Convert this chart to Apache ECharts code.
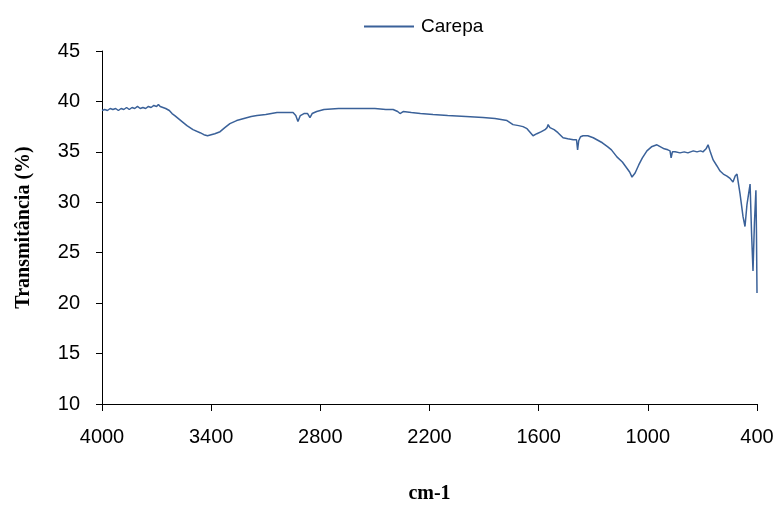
<!DOCTYPE html>
<html>
<head>
<meta charset="utf-8">
<script src="https://cdn.jsdelivr.net/npm/echarts@6/dist/echarts.min.js"></script>
<style>
  html, body { margin: 0; padding: 0; background: #fff; }
  #chart { width: 777px; height: 509px; }
</style>
</head>
<body>
<div id="chart"></div>
<script>
// FTIR spectrum of the "Carepa" sample: wavenumber (cm-1) vs transmittance (%)
const wavenumbers = [
  4000, 3985, 3970, 3955, 3940, 3925, 3910, 3895, 3880, 3865, 3850, 3835, 3820, 3805, 3790,
  3775, 3760, 3745, 3730, 3715, 3700, 3690, 3680, 3665, 3650, 3630, 3615, 3600, 3580, 3560,
  3533, 3500, 3461, 3440, 3420, 3400, 3380, 3351, 3325, 3297, 3260, 3220, 3180, 3148, 3100,
  3038, 2990, 2950, 2935, 2923, 2910, 2890, 2870, 2857, 2845, 2820, 2780, 2700, 2600, 2500,
  2440, 2400, 2375, 2362, 2345, 2300, 2250, 2181, 2100, 2000, 1906, 1840, 1774, 1741, 1710,
  1686, 1664, 1645, 1631, 1610, 1585, 1565, 1554, 1548, 1538, 1515, 1494, 1466, 1440, 1410,
  1392, 1386, 1380, 1370, 1356, 1330, 1300, 1280, 1250, 1220, 1200, 1170, 1140, 1120, 1100,
  1087, 1070, 1050, 1030, 1005, 980, 950, 930, 910, 890, 878, 872, 865, 850, 823,
  800, 780, 750, 730, 710, 697, 680, 669, 655, 641, 620, 603, 585, 565, 550,
  532, 520, 510, 493, 477, 466, 455, 438, 430, 422, 414, 406, 403, 400
];
const transmittance = [
  39.1, 39.2, 39.1, 39.3, 39.2, 39.3, 39.1, 39.3, 39.2, 39.4, 39.2, 39.4, 39.3, 39.5, 39.3,
  39.4, 39.3, 39.5, 39.4, 39.6, 39.5, 39.7, 39.5, 39.4, 39.3, 39.1, 38.8, 38.6, 38.3, 38.0,
  37.6, 37.2, 36.9, 36.7, 36.6, 36.7, 36.8, 37.0, 37.4, 37.8, 38.1, 38.3, 38.5, 38.6, 38.7,
  38.9, 38.9, 38.9, 38.6, 38.0, 38.6, 38.8, 38.8, 38.4, 38.8, 39.0, 39.2, 39.3, 39.3, 39.3,
  39.2, 39.2, 39.0, 38.8, 39.0, 38.9, 38.8, 38.7, 38.6, 38.5, 38.4, 38.3, 38.1, 37.7, 37.6,
  37.5, 37.3, 36.9, 36.6, 36.8, 37.0, 37.2, 37.4, 37.7, 37.4, 37.2, 36.9, 36.4, 36.3, 36.2,
  36.2, 35.2, 36.1, 36.5, 36.6, 36.6, 36.4, 36.2, 35.9, 35.5, 35.2, 34.5, 34.0, 33.5, 33.0,
  32.5, 32.9, 33.7, 34.4, 35.1, 35.5, 35.7, 35.5, 35.3, 35.2, 35.1, 34.4, 35.0, 35.0, 34.9,
  35.0, 34.9, 35.1, 35.0, 35.1, 35.0, 35.3, 35.7, 34.9, 34.2, 33.6, 33.1, 32.8, 32.6, 32.4,
  32.0, 32.6, 32.8, 30.8, 28.6, 27.6, 29.8, 31.8, 27.0, 23.2, 28.0, 31.2, 27.0, 21.0
];
const xTicks = [400, 1000, 1600, 2200, 2800, 3400, 4000];
const seriesName = 'Carepa';
const xTitle = 'cm-1';
const yTitle = 'Transmitância (%)';

const points = wavenumbers.map((w, i) => [w, transmittance[i]]);
const lineColor = '#3A6199';
const tickFont = 'Liberation Sans, Arial, sans-serif';
const titleFont = 'Liberation Serif, Times New Roman, serif';

const chart = echarts.init(document.getElementById('chart'), null, { renderer: 'canvas' });
chart.setOption({
  animation: false,
  backgroundColor: '#fff',
  grid: { left: 102, right: 20, top: 51, bottom: 99, containLabel: false },
  legend: {
    data: [seriesName],
    top: 12,
    left: 359,
    itemWidth: 50,
    itemHeight: 2,
    itemGap: 6,
    icon: 'rect',
    textStyle: { fontFamily: tickFont, fontSize: 19, color: '#000', padding: [0, 0, 0, 2] }
  },
  xAxis: {
    type: 'value',
    inverse: true,
    min: 400,
    max: 4000,
    name: xTitle,
    nameLocation: 'middle',
    nameGap: 80,
    nameTextStyle: { fontFamily: titleFont, fontWeight: 'bold', fontSize: 20, color: '#000' },
    axisLine: { show: true, onZero: false, lineStyle: { color: '#000', width: 1 } },
    axisTick: { show: true, length: 7, customValues: xTicks, lineStyle: { color: '#000' } },
    axisLabel: {
      margin: 23,
      customValues: xTicks,
      formatter: v => String(v),
      fontFamily: tickFont, fontSize: 20, color: '#000'
    },
    splitLine: { show: false }
  },
  yAxis: {
    type: 'value',
    min: 10,
    max: 45,
    interval: 5,
    name: yTitle,
    nameLocation: 'middle',
    nameGap: 68,
    nameRotate: 90,
    nameTextStyle: { fontFamily: titleFont, fontWeight: 'bold', fontSize: 20, color: '#000' },
    axisLine: { show: true, lineStyle: { color: '#000', width: 1 } },
    axisTick: { show: true, length: 6, lineStyle: { color: '#000' } },
    axisLabel: { margin: 22, fontFamily: tickFont, fontSize: 20, color: '#000' },
    splitLine: { show: false }
  },
  series: [{
    name: seriesName,
    type: 'line',
    data: points,
    showSymbol: false,
    symbol: 'none',
    lineStyle: { color: lineColor, width: 1.5 },
    itemStyle: { color: lineColor }
  }]
});
</script>
</body>
</html>
